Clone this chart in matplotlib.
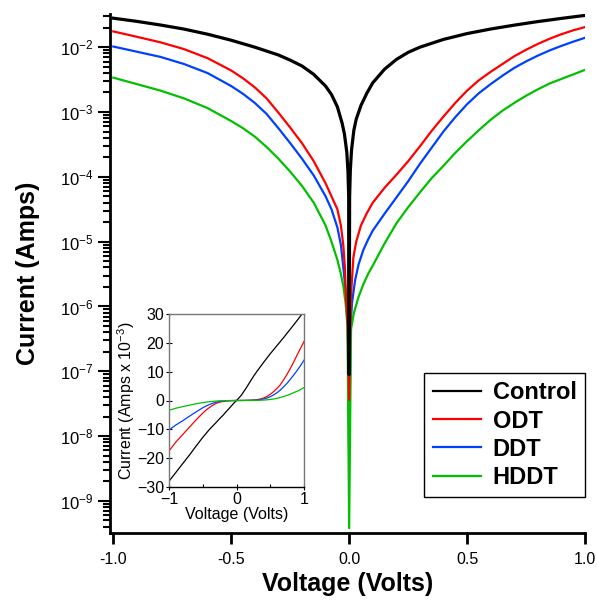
import numpy as np
import matplotlib
matplotlib.use("Agg")
import matplotlib.pyplot as plt
from matplotlib.lines import Line2D
from matplotlib.ticker import LogLocator, NullFormatter, MultipleLocator

plt.rcParams["font.family"] = ["Liberation Sans", "DejaVu Sans"]
plt.rcParams["mathtext.fontset"] = "custom"
plt.rcParams["mathtext.rm"] = "Liberation Sans"
plt.rcParams["mathtext.it"] = "Liberation Sans:italic"
plt.rcParams["mathtext.bf"] = "Liberation Sans:bold"

# ── Data: bias (V) and log10 |current| (A) ───────────────────────────────────

v_control = [-1.0, -0.9, -0.8, -0.7, -0.6, -0.5, -0.4, -0.3, -0.25, -0.2, -0.15, -0.1,
             -0.075, -0.05, -0.03, -0.02, -0.01, -0.005, -0.002, 0.0, 0.002, 0.005,
             0.01, 0.02, 0.03, 0.05, 0.075, 0.1, 0.15, 0.2, 0.25, 0.3, 0.4, 0.5,
             0.6, 0.7, 0.8, 0.9, 1.0]
logi_control = [-1.553, -1.602, -1.658, -1.721, -1.80, -1.893, -2.0, -2.12, -2.2, -2.29,
                -2.42, -2.6, -2.73, -2.92, -3.17, -3.34, -3.62, -3.92, -4.3, -7.05,
                -4.3, -3.9, -3.59, -3.28, -3.11, -2.9, -2.71, -2.55, -2.34, -2.19,
                -2.08, -2.0, -1.88, -1.79, -1.72, -1.66, -1.605, -1.556, -1.51]

v_odt = [-1.0, -0.9, -0.8, -0.7, -0.6, -0.5, -0.45, -0.4, -0.35, -0.3, -0.25, -0.2,
         -0.15, -0.1, -0.075, -0.05, -0.035, -0.025, -0.018, -0.013, -0.006, 0.0,
         0.005, 0.01, 0.018, 0.03, 0.05, 0.075, 0.1, 0.15, 0.2, 0.25, 0.3, 0.35,
         0.4, 0.45, 0.5, 0.55, 0.6, 0.65, 0.7, 0.75, 0.8, 0.85, 0.9, 0.95, 1.0]
logi_odt = [-1.757, -1.84, -1.925, -2.03, -2.17, -2.36, -2.48, -2.62, -2.79, -3.01,
            -3.24, -3.48, -3.76, -4.1, -4.3, -4.5, -4.75, -5.05, -5.4, -5.9, -6.3,
            -7.44, -6.3, -5.7, -5.24, -5.0, -4.75, -4.56, -4.4, -4.17, -3.97,
            -3.76, -3.53, -3.29, -3.07, -2.86, -2.67, -2.51, -2.38, -2.26, -2.14,
            -2.04, -1.95, -1.87, -1.8, -1.74, -1.69]

v_ddt = [-1.0, -0.9, -0.8, -0.7, -0.6, -0.5, -0.45, -0.4, -0.35, -0.3, -0.25, -0.2,
         -0.15, -0.1, -0.075, -0.05, -0.035, -0.022, -0.013, -0.006, 0.0, 0.006,
         0.012, 0.025, 0.04, 0.06, 0.08, 0.1, 0.15, 0.2, 0.25, 0.3, 0.35, 0.4,
         0.45, 0.5, 0.55, 0.6, 0.65, 0.7, 0.75, 0.8, 0.85, 0.9, 0.95, 1.0]
logi_ddt = [-1.99, -2.07, -2.15, -2.26, -2.40, -2.6, -2.72, -2.86, -3.03, -3.25,
            -3.48, -3.72, -3.98, -4.3, -4.5, -4.78, -5.05, -5.49, -5.85, -6.3,
            -8.3, -6.3, -5.95, -5.6, -5.35, -5.13, -4.97, -4.83, -4.57, -4.32,
            -4.07, -3.8, -3.55, -3.3, -3.08, -2.88, -2.71, -2.57, -2.44, -2.32,
            -2.22, -2.13, -2.05, -1.98, -1.915, -1.855]

v_hddt = [-1.0, -0.9, -0.8, -0.7, -0.6, -0.5, -0.45, -0.4, -0.35, -0.3, -0.25, -0.2,
          -0.15, -0.1, -0.075, -0.05, -0.035, -0.024, -0.015, -0.007, 0.0, 0.008,
          0.02, 0.04, 0.06, 0.08, 0.1, 0.15, 0.2, 0.25, 0.3, 0.35, 0.4, 0.45, 0.5,
          0.55, 0.6, 0.65, 0.7, 0.75, 0.8, 0.85, 0.9, 0.95, 1.0]
logi_hddt = [-2.47, -2.57, -2.67, -2.79, -2.94, -3.14, -3.25, -3.38, -3.54, -3.72,
             -3.92, -4.14, -4.4, -4.75, -5.0, -5.28, -5.5, -5.7, -5.95, -6.3,
             -9.42, -6.35, -6.1, -5.85, -5.66, -5.5, -5.37, -5.03, -4.72, -4.47,
             -4.24, -4.02, -3.83, -3.63, -3.45, -3.28, -3.12, -2.98, -2.86, -2.75,
             -2.65, -2.56, -2.49, -2.42, -2.35]

labels = ["Control", "ODT", "DDT", "HDDT"]
colors = ["#000000", "#ff0000", "#0040ff", "#00c000"]
decades = [1e-9, 1e-8, 1e-7, 1e-6, 1e-5, 1e-4, 1e-3, 1e-2]
decade_labels = ["10$^{-9}$", "10$^{-8}$", "10$^{-7}$", "10$^{-6}$",
                 "10$^{-5}$", "10$^{-4}$", "10$^{-3}$", "10$^{-2}$"]

series = [(v_control, logi_control), (v_odt, logi_odt), (v_ddt, logi_ddt), (v_hddt, logi_hddt)]
main_lw = [2.3, 1.6, 1.6, 1.6]
zorders = [5, 4, 2, 3]

# ── Figure ───────────────────────────────────────────────────────────────────

fig = plt.figure(figsize=(5.97, 6.03), dpi=100)
ax = fig.add_axes([110 / 597, 1 - 533 / 603, 475 / 597, 519 / 603])

for (v, lg), c, lw, z in zip(series, colors, main_lw, zorders):
    ax.plot(v, 10.0 ** np.array(lg), color=c, lw=lw, zorder=z, solid_joinstyle="round")

ax.set_yscale("log")
ax.set_xlim(-1.014, 1.0)
ax.set_ylim(3.2e-10, 3.25e-2)
ax.set_xticks([-1.0, -0.5, 0.0, 0.5, 1.0])
ax.set_xticklabels(["-1.0", "-0.5", "0.0", "0.5", "1.0"])
ax.set_yticks(decades)
ax.set_yticklabels(decade_labels)
ax.yaxis.set_minor_locator(LogLocator(base=10, subs=np.arange(2, 10), numticks=20))
ax.yaxis.set_minor_formatter(NullFormatter())

for side in ["top", "right"]:
    ax.spines[side].set_visible(False)
for side in ["left", "bottom"]:
    ax.spines[side].set_linewidth(2.0)

ax.tick_params(axis="x", which="major", direction="out", length=8, width=2,
               labelsize=11.5, pad=6)
ax.tick_params(axis="y", which="major", direction="out", length=9, width=1.5,
               labelsize=12, pad=3)
ax.tick_params(axis="y", which="minor", direction="out", length=5, width=1.5)

ax.set_xlabel("Voltage (Volts)", fontsize=18, fontweight="bold", labelpad=3)
ax.set_ylabel("Current (Amps)", fontsize=18, fontweight="bold", labelpad=14)

handles = [Line2D([], [], color=c, lw=1.6) for c in colors]
leg = ax.legend(handles, labels, loc="lower right", bbox_to_anchor=(1.0, 0.069),
                prop={"weight": "bold", "size": 17}, frameon=True, fancybox=False,
                edgecolor="black", framealpha=1, handlelength=2.05, handletextpad=0.5,
                labelspacing=0.22, borderpad=0.35, borderaxespad=0.0)
leg.get_frame().set_linewidth(1.0)

# ── Inset (linear scale, mA) ─────────────────────────────────────────────────

ins = fig.add_axes([169 / 597, 1 - 487 / 603, 135 / 597, 173 / 603])
for (v, lg), c in zip(series, colors):
    v = np.array(v)
    ins.plot(v, np.sign(v) * 10.0 ** np.array(lg) * 1e3, color=c, lw=0.9)

ins.set_xlim(-1, 1)
ins.set_ylim(-30, 30)
ins.set_xticks([-1, 0, 1])
ins.xaxis.set_minor_locator(MultipleLocator(0.5))
ins.set_yticks([-30, -20, -10, 0, 10, 20, 30])
ins.tick_params(axis="both", which="major", direction="inout", length=4, width=0.8,
                labelsize=11.5, pad=1.5)
ins.tick_params(axis="x", which="minor", direction="in", length=2, width=0.8)
for side in ["left", "right", "top"]:
    ins.spines[side].set_color("#777777")
    ins.spines[side].set_linewidth(1.0)
ins.spines["bottom"].set_linewidth(1.0)
ins.set_xlabel("Voltage (Volts)", fontsize=11.5, labelpad=0)
ins.set_ylabel("Current (Amps x 10$^{-3}$)", fontsize=11.5, labelpad=0)

fig.savefig("out.png", dpi=100)
